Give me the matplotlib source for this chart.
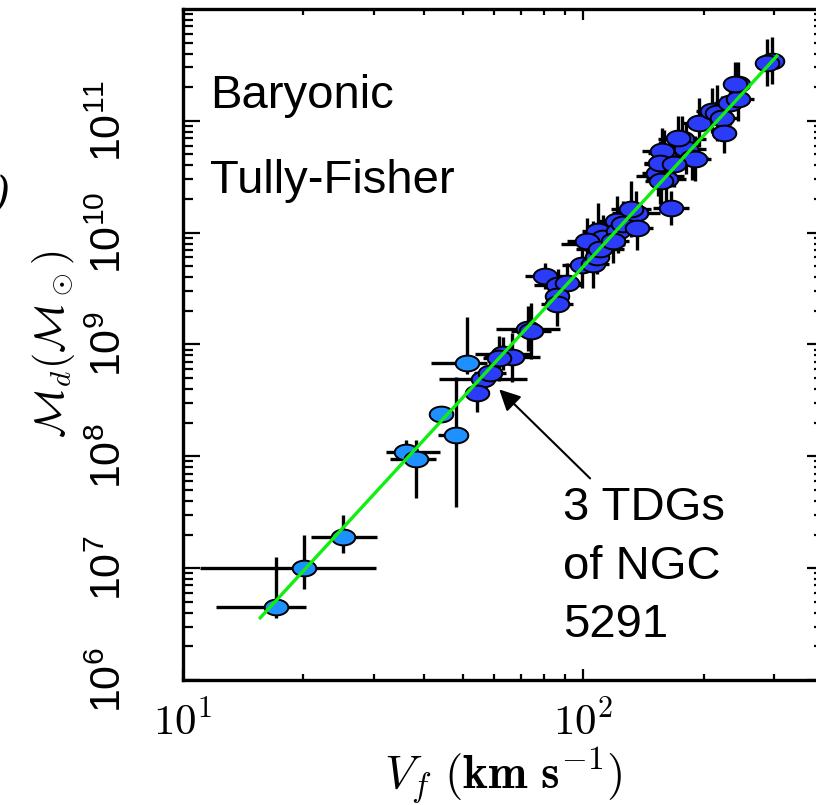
import numpy as np
import matplotlib
matplotlib.use("Agg")
import matplotlib.pyplot as plt
from matplotlib.path import Path
from matplotlib.ticker import NullFormatter, LogLocator

plt.rcParams["mathtext.fontset"] = "cm"
plt.rcParams["mathtext.rm"] = "Liberation Sans"

# gas-rich galaxies (light blue); errors are in dex, low / high side
v_gas = [17.1, 20.1, 25.1, 36.1, 38.2, 44.2, 48.1, 51.3]
m_gas = [4.5e6, 1.0e7, 1.9e7, 1.09e8, 9.4e7, 2.4e8, 1.54e8, 6.9e8]
v_gas_lo = [0.15, 0.26, 0.08, 0.05, 0.065, 0.0, 0.045, 0.09]
v_gas_hi = [0.075, 0.18, 0.085, 0.085, 0.05, 0.0, 0.03, 0.05]
m_gas_lo = [0.10, 0.19, 0.14, 0.07, 0.35, 0.0, 0.64, 0.10]
m_gas_hi = [0.45, 0.30, 0.20, 0.11, 0.17, 0.0, 0.52, 0.41]

# star-dominated galaxies + TDGs (dark blue); symmetric errors in dex
v_star = [56.2, 54.3, 58.5, 63.1, 66.5, 61.5, 72.9, 74.2,
          80.4, 86.6, 91.2, 86.1, 86.0,
          99.4, 105.9, 108.4, 106.0, 108.9, 112.0, 102.0, 110.5,
          121.6, 122.4, 125.9, 135.5, 131.5, 136.2, 118.6,
          165.6,
          155.8, 161.0, 154.0, 159.0, 167.0, 159.0, 176.8, 181.0, 186.6,
          172.8, 157.9, 190.0, 155.6, 169.0, 157.0,
          194.5, 210.4, 216.0, 222.0, 224.4, 233.0, 244.0, 244.0, 239.9,
          297.2, 288.0]
m_star = [4.9e8, 3.65e8, 5.6e8, 8.3e8, 7.7e8, 7.5e8, 1.39e9, 1.33e9,
          4.1e9, 3.37e9, 3.55e9, 2.74e9, 2.32e9,
          5.1e9, 5.3e9, 6.0e9, 8.0e9, 1.04e10, 9.0e9, 8.5e9, 7.2e9,
          1.28e10, 1.04e10, 1.2e10, 1.5e10, 1.64e10, 1.11e10, 8.5e9,
          1.67e10,
          3.24e10, 3.0e10, 3.4e10, 4.1e10, 4.4e10, 5.2e10, 6.9e10, 5.6e10, 4.7e10,
          7.0e10, 5.4e10, 4.6e10, 4.2e10, 4.1e10, 2.9e10,
          9.6e10, 1.23e11, 1.18e11, 1.06e11, 7.8e10, 1.45e11, 1.57e11, 2.14e11, 2.14e11,
          3.44e11, 3.3e11]
v_star_err = [0.11, 0.03, 0.04, 0.07, 0.07, 0.04, 0.08, 0.05,
              0.05, 0.06, 0.04, 0.03, 0.04,
              0.05, 0.04, 0.03, 0.08, 0.04, 0.04, 0.05, 0.06,
              0.05, 0.04, 0.05, 0.06, 0.05, 0.04, 0.04,
              0.045,
              0.06, 0.05, 0.04, 0.05, 0.05, 0.04, 0.06, 0.05, 0.04,
              0.04, 0.05, 0.04, 0.04, 0.05, 0.04,
              0.04, 0.04, 0.03, 0.04, 0.03, 0.04, 0.04, 0.03, 0.03,
              0.02, 0.02]
m_star_err = [0.05, 0.17, 0.10, 0.15, 0.22, 0.20, 0.20, 0.25,
              0.12, 0.15, 0.18, 0.10, 0.20,
              0.20, 0.22, 0.15, 0.20, 0.25, 0.20, 0.20, 0.18,
              0.22, 0.20, 0.20, 0.20, 0.25, 0.20, 0.20,
              0.15,
              0.25, 0.20, 0.20, 0.22, 0.20, 0.20, 0.20, 0.22, 0.20,
              0.20, 0.20, 0.20, 0.20, 0.20, 0.25,
              0.22, 0.20, 0.25, 0.20, 0.18, 0.20, 0.20, 0.20, 0.20,
              0.21, 0.21]

# baryonic Tully-Fisher fit line (end points)
v_fit = [15.6, 305.0]
m_fit = [3.6e6, 3.8e11]

y_ticks = [1e6, 1e7, 1e8, 1e9, 1e10, 1e11]
y_labels = [r"$10^{6}$", r"$10^{7}$", r"$10^{8}$", r"$10^{9}$", r"$10^{10}$", r"$10^{11}$"]
x_ticks = [10, 100]
x_labels = [r"$10^{1}$", r"$10^{2}$"]


def dex_err(vals, lo, hi):
    vals = np.asarray(vals, float)
    lo = np.asarray(lo, float)
    hi = np.asarray(hi, float)
    return [vals - vals * 10 ** -lo, vals * 10 ** hi - vals]


# ellipse marker, wider than tall
t = np.linspace(0, 2 * np.pi, 60)
ellipse = Path(np.column_stack([1.5 * np.cos(t), np.sin(t)]), closed=True)

fig = plt.figure(figsize=(8.16, 8.05), dpi=100)
ax = fig.add_axes([183 / 816, 125 / 805, 641 / 816, 671 / 805])
ax.set_xscale("log")
ax.set_yscale("log")

ax.errorbar(v_gas, m_gas,
            xerr=dex_err(v_gas, v_gas_lo, v_gas_hi),
            yerr=dex_err(m_gas, m_gas_lo, m_gas_hi),
            fmt="none", ecolor="black", elinewidth=2.4, capsize=0, zorder=2)
ax.errorbar(v_star, m_star,
            xerr=dex_err(v_star, v_star_err, v_star_err),
            yerr=dex_err(m_star, m_star_err, m_star_err),
            fmt="none", ecolor="black", elinewidth=2.4, capsize=0, zorder=2)
ax.plot(v_gas, m_gas, ls="none", marker=ellipse, ms=17,
        mfc="#1e90ff", mec="black", mew=1.4, zorder=3)
ax.plot(v_star, m_star, ls="none", marker=ellipse, ms=17,
        mfc="#2a3cf8", mec="black", mew=1.4, zorder=3)
ax.plot(v_fit, m_fit, color="#11ee11", lw=2.4, zorder=4)

ax.set_xlim(10, 400)
ax.set_ylim(1e6, 1e12)

for side in ax.spines.values():
    side.set_linewidth(2.4)

ax.yaxis.set_minor_locator(LogLocator(base=10, subs=np.arange(2, 10), numticks=20))
ax.xaxis.set_minor_locator(LogLocator(base=10, subs=np.arange(2, 10), numticks=20))
ax.xaxis.set_minor_formatter(NullFormatter())
ax.yaxis.set_minor_formatter(NullFormatter())
ax.tick_params(which="both", direction="in", top=True, right=True, width=1.6)
ax.tick_params(axis="x", which="major", length=8, pad=15)
ax.tick_params(axis="x", which="minor", length=4)
ax.tick_params(axis="y", which="major", length=12, pad=38)
ax.tick_params(axis="y", which="minor", length=7)

ax.set_yticks(y_ticks, y_labels, fontsize=31, math_fontfamily="custom",
              rotation=90, va="center")
ax.set_xticks(x_ticks, x_labels, fontsize=31, math_fontfamily="cm")

ax.set_xlabel(r"$\boldsymbol{V_f}\ (\mathbf{km\ s^{-1}})$", fontsize=34,
              math_fontfamily="cm")
ax.xaxis.set_label_coords(0.5, -0.097)
ax.set_ylabel(r"$\mathcal{M}_d(\mathcal{M}_\odot)$", fontsize=30,
              math_fontfamily="cm")
ax.yaxis.set_label_coords(-0.165, 0.5)

sans = "Liberation Sans"
fig.text(210 / 816, 1 - 108 / 805, "Baryonic", fontsize=34, family=sans, va="baseline")
fig.text(210 / 816, 1 - 193 / 805, "Tully-Fisher", fontsize=34, family=sans, va="baseline")
for i, line in enumerate(["3 TDGs", "of NGC", "5291"]):
    fig.text(563 / 816, 1 - (520 + 58.5 * i) / 805, line, fontsize=34,
             family=sans, va="baseline")

ax.annotate("", xy=(61.0, 4.13e8), xytext=(105.3, 6.1e7),
            arrowprops=dict(arrowstyle="-|>", color="black", lw=1.5,
                            mutation_scale=32), zorder=5)

# edge of a neighbouring panel's label
fig.text(10 / 816, 1 - 195 / 805, ")", fontsize=30, family="DejaVu Serif",
         style="italic", ha="right", va="center")

fig.savefig("out.png", dpi=100)
